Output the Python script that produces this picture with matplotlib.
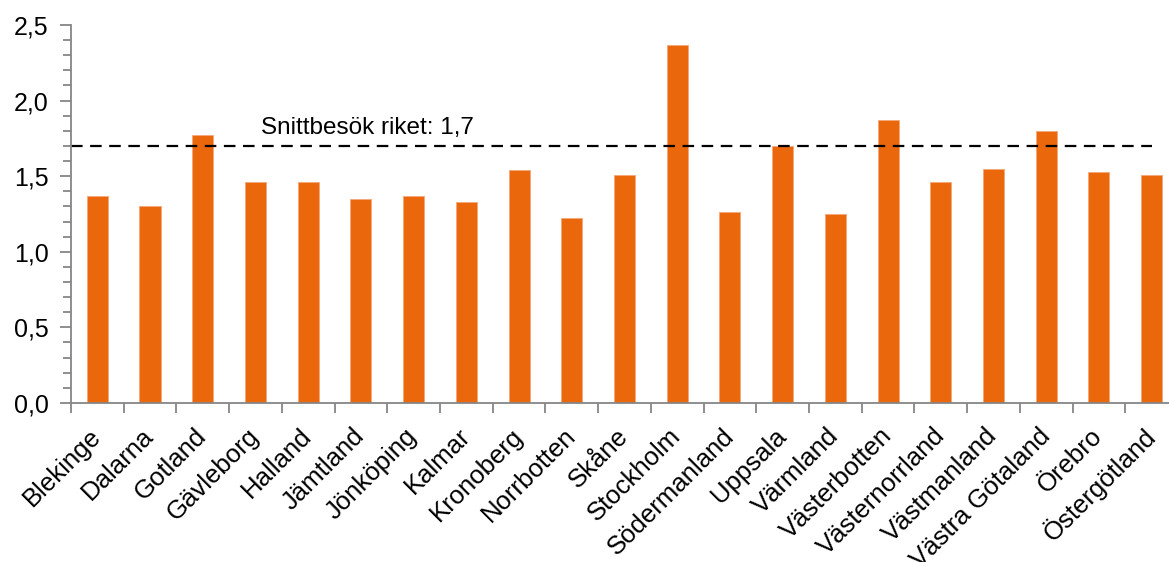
import numpy as np
import matplotlib.pyplot as plt
import matplotlib.ticker as mticker

plt.rcParams['font.family'] = ['Liberation Sans', 'DejaVu Sans']

# data
lan = ["Blekinge", "Dalarna", "Gotland", "Gävleborg", "Halland", "Jämtland",
       "Jönköping", "Kalmar", "Kronoberg", "Norrbotten", "Skåne", "Stockholm",
       "Södermanland", "Uppsala", "Värmland", "Västerbotten", "Västernorrland",
       "Västmanland", "Västra Götaland", "Örebro", "Östergötland"]
besok = [1.37, 1.30, 1.77, 1.46, 1.46, 1.35, 1.37, 1.33, 1.54, 1.22, 1.51,
         2.37, 1.26, 1.70, 1.25, 1.87, 1.46, 1.55, 1.80, 1.53, 1.51]
snitt = 1.7

orange = '#EB670B'
grey = '#868686'

fig = plt.figure(figsize=(11.69, 5.62), dpi=100)
ax = fig.add_axes([0.0607, 0.283, 0.947, 0.6726])

x = np.arange(len(lan))
ax.bar(x, besok, width=0.4, color=orange, edgecolor='#F3A877', linewidth=0.6)

# national average
ax.plot([-0.5, len(lan) - 1], [snitt, snitt], color='black', linestyle=(0, (5.2, 3.4)), linewidth=1.6)
ax.text(3.1, 1.78, "Snittbesök riket: 1,7", fontsize=17.5, ha='left', va='baseline')

ax.set_xlim(-0.5, len(lan) - 0.5)
ax.set_ylim(0, 2.5)

ax.yaxis.set_major_locator(mticker.MultipleLocator(0.5))
ax.yaxis.set_minor_locator(mticker.MultipleLocator(0.1))
ax.yaxis.set_major_formatter(mticker.FuncFormatter(lambda v, p: f"{v:.1f}".replace('.', ',')))

ax.set_xticks(x)
ax.set_xticklabels(lan, rotation=45, ha='right', va='center', rotation_mode='anchor')
ax.set_xticks(np.arange(-0.5, len(lan), 1), minor=True)
ax.tick_params(axis='x', which='major', length=0, pad=21, labelsize=18.5)
ax.tick_params(axis='x', which='minor', length=7, width=1.3, color=grey)
ax.tick_params(axis='y', which='major', length=8, width=1.3, color=grey, labelsize=18, pad=8)
ax.tick_params(axis='y', which='minor', length=6, width=1.3, color=grey)

for s in ['top', 'right']:
    ax.spines[s].set_visible(False)
for s in ['left', 'bottom']:
    ax.spines[s].set_color(grey)
    ax.spines[s].set_linewidth(1.3)

fig.savefig("out.png", dpi=100)
